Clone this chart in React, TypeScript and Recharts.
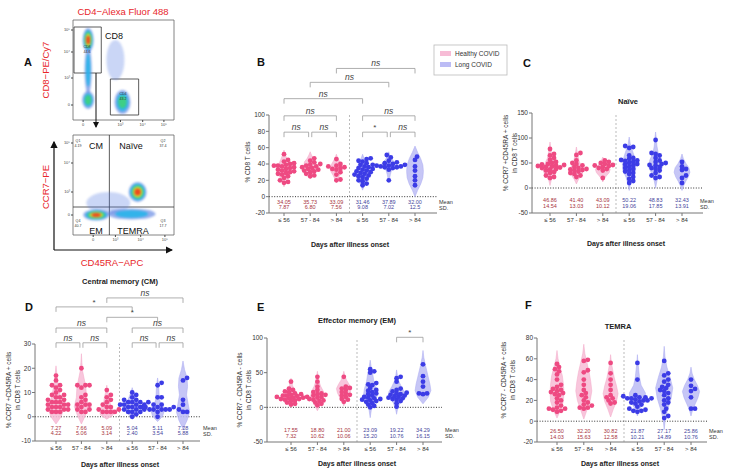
import React from "react";
import { ScatterChart, Scatter, XAxis, YAxis, ReferenceLine, ReferenceArea } from "recharts";

// x categories, same in every panel
const groups = ["≤ 56", "57 - 84", "> 84", "≤ 56", "57 - 84", "> 84"];

type Violin = { lo: number; hi: number; w: number[] };
type Bracket = [number, number, number, string];

// ---- B: % CD8 T cells
const bValues = [
  [52, 45, 43, 41, 40, 39, 38, 38, 37, 36, 35, 34, 33, 32, 31, 30, 29, 28, 27, 25, 23, 20, 18, 17],
  [47, 44, 42, 40, 39, 38, 37, 36, 35, 34, 33, 32, 31, 30, 28, 26, 25],
  [46, 40, 38, 37, 36, 35, 34, 33, 30, 27, 21, 20],
  [47, 46, 44, 43, 41, 39, 37, 36, 35, 34, 33, 32, 31, 30, 29, 28, 27, 26, 25, 24, 22, 20, 19, 16, 14],
  [51, 48, 44, 42, 41, 40, 39, 39, 38, 38, 37, 37, 36, 36, 35, 33, 20],
  [49, 45, 37, 32, 25, 20, 14],
];
const bViolins: Violin[] = [
  { lo: 12, hi: 57, w: [0.06, 0.15, 0.24, 0.26, 0.2, 0.12, 0.05] },
  { lo: 22, hi: 55, w: [0.06, 0.14, 0.2, 0.24, 0.22, 0.12, 0.05] },
  { lo: 17, hi: 52, w: [0.05, 0.12, 0.2, 0.25, 0.2, 0.12, 0.05] },
  { lo: 8, hi: 52, w: [0.06, 0.15, 0.24, 0.27, 0.22, 0.14, 0.06] },
  { lo: 18, hi: 55, w: [0.03, 0.06, 0.1, 0.22, 0.26, 0.12, 0.04] },
  { lo: 0, hi: 62, w: [0.1, 0.22, 0.3, 0.32, 0.3, 0.22, 0.1] },
];
const bMeans = ["34.05", "35.73", "33.09", "31.46", "37.89", "32.00"];
const bSds = ["7.87", "6.80", "7.56", "9.08", "7.02", "12.5"];
const bBrackets: Bracket[] = [
  [3, 6, 157, "ns"], [2, 5, 140, "ns"], [1, 4, 120, "ns"],
  [1, 3, 99, "ns"], [4, 6, 99, "ns"],
  [1, 2, 79, "ns"], [2, 3, 79, "ns"], [4, 5, 79, "*"], [5, 6, 79, "ns"],
];

// ---- C: Naive
const cValues = [
  [78, 68, 65, 60, 56, 52, 50, 48, 47, 46, 45, 44, 43, 42, 41, 40, 38, 37, 35, 32, 30, 25, 22, 20],
  [70, 66, 55, 50, 48, 45, 42, 40, 38, 37, 36, 35, 33, 30, 28, 25, 22],
  [55, 52, 50, 48, 46, 45, 44, 42, 40, 38, 35, 20],
  [84, 82, 80, 65, 60, 58, 56, 55, 54, 52, 50, 48, 47, 45, 42, 40, 38, 35, 33, 30, 28, 22, 18, 14, 10],
  [96, 70, 68, 65, 60, 55, 52, 50, 48, 46, 45, 42, 40, 38, 35, 30, 25, 22, 20],
  [52, 43, 38, 36, 25, 20, 10],
];
const cViolins: Violin[] = [
  { lo: 5, hi: 92, w: [0.05, 0.2, 0.28, 0.2, 0.1, 0.06, 0.03] },
  { lo: 8, hi: 82, w: [0.08, 0.2, 0.26, 0.18, 0.1, 0.06, 0.03] },
  { lo: 12, hi: 62, w: [0.05, 0.14, 0.24, 0.28, 0.22, 0.12, 0.05] },
  { lo: -5, hi: 102, w: [0.05, 0.12, 0.24, 0.26, 0.2, 0.12, 0.04] },
  { lo: 0, hi: 112, w: [0.05, 0.14, 0.26, 0.22, 0.1, 0.05, 0.03] },
  { lo: -5, hi: 68, w: [0.06, 0.14, 0.24, 0.3, 0.26, 0.14, 0.05] },
];
const cMeans = ["46.86", "41.40", "43.09", "50.22", "48.83", "32.43"];
const cSds = ["14.54", "13.03", "10.12", "19.06", "17.85", "13.91"];

// ---- D: Central memory
const dValues = [
  [17, 15, 13, 13, 12, 11, 10, 9, 9, 8, 8, 7, 7, 6, 6, 6, 5, 5, 5, 4, 4, 4, 3, 3, 3, 2, 2, 2],
  [20, 13, 13, 13, 12, 9, 8, 7, 6, 5, 5, 5, 4, 3, 3, 2, 2],
  [11, 9, 8, 7, 6, 5, 4, 4, 3, 3, 2, 2, 2, 2],
  [10, 9, 8, 7, 7, 6, 6, 6, 6, 5, 5, 5, 5, 4, 4, 4, 3, 3, 3, 2, 2, 2, 1, 0],
  [14, 13, 8, 8, 5, 5, 4, 4, 4, 4, 3, 3, 3, 3, 3, 2, 0],
  [16, 15, 7, 5, 3, 2, 2],
];
const dViolins: Violin[] = [
  { lo: -3, hi: 21, w: [0.2, 0.3, 0.24, 0.16, 0.1, 0.06, 0.03] },
  { lo: -3, hi: 26, w: [0.16, 0.28, 0.2, 0.18, 0.12, 0.05, 0.02] },
  { lo: -1, hi: 13, w: [0.25, 0.28, 0.18, 0.12, 0.1, 0.06, 0.03] },
  { lo: -1, hi: 12, w: [0.12, 0.22, 0.28, 0.26, 0.16, 0.1, 0.04] },
  { lo: -2, hi: 16, w: [0.2, 0.26, 0.14, 0.08, 0.06, 0.05, 0.03] },
  { lo: -5, hi: 23, w: [0.16, 0.26, 0.2, 0.14, 0.18, 0.16, 0.06] },
];
const dMeans = ["7.27", "7.66", "5.09", "5.04", "5.11", "7.28"];
const dSds = ["4.22", "5.06", "3.14", "2.40", "3.54", "5.88"];
const dBrackets: Bracket[] = [
  [3, 6, 49, "ns"], [1, 4, 45.3, "*"], [3, 5, 41, "*"],
  [1, 3, 36.6, "ns"], [4, 6, 36.6, "ns"],
  [1, 2, 30.5, "ns"], [2, 3, 30.5, "ns"], [4, 5, 30.5, "ns"], [5, 6, 30.5, "ns"],
];

// ---- E: Effector memory
const eValues = [
  [37, 27, 25, 23, 22, 20, 19, 18, 17, 17, 16, 15, 15, 14, 14, 13, 12, 12, 11, 10, 9, 7, 5, 4],
  [44, 37, 30, 25, 22, 20, 19, 18, 17, 15, 14, 12, 11, 10, 9, 7, 5, 3],
  [44, 30, 28, 27, 25, 22, 20, 18, 17, 15, 12, 11, 8],
  [55, 52, 50, 35, 33, 32, 28, 25, 24, 22, 20, 19, 17, 15, 14, 13, 12, 11, 10, 9, 8, 6, 4, 2, 0],
  [44, 42, 37, 27, 25, 23, 21, 20, 19, 18, 17, 16, 15, 14, 13, 12, 11, 9, 6, 1],
  [62, 45, 37, 30, 20, 20, 19],
];
const eViolins: Violin[] = [
  { lo: 0, hi: 42, w: [0.1, 0.22, 0.28, 0.2, 0.12, 0.06, 0.03] },
  { lo: -5, hi: 52, w: [0.1, 0.2, 0.26, 0.22, 0.12, 0.06, 0.03] },
  { lo: 2, hi: 52, w: [0.06, 0.16, 0.24, 0.28, 0.2, 0.1, 0.04] },
  { lo: -15, hi: 68, w: [0.04, 0.14, 0.26, 0.22, 0.14, 0.1, 0.04] },
  { lo: -10, hi: 54, w: [0.04, 0.12, 0.24, 0.3, 0.18, 0.08, 0.03] },
  { lo: 5, hi: 82, w: [0.2, 0.3, 0.26, 0.2, 0.14, 0.08, 0.03] },
];
const eMeans = ["17.55", "18.80", "21.00", "23.09", "19.22", "34.29"];
const eSds = ["7.32", "10.62", "10.06", "15.20", "10.76", "16.15"];
const eBrackets: Bracket[] = [[5, 6, 101, "*"]];

// ---- F: TEMRA
const fValues = [
  [55, 52, 50, 48, 45, 40, 35, 33, 31, 30, 29, 28, 27, 26, 25, 22, 20, 18, 15, 13, 12, 12, 11, 10, 9],
  [59, 58, 49, 47, 40, 35, 30, 27, 25, 23, 20, 18, 16, 15, 13, 13, 12],
  [56, 46, 40, 35, 30, 25, 23, 22, 20, 18, 17],
  [56, 40, 25, 24, 23, 23, 22, 22, 22, 21, 20, 20, 19, 18, 17, 16, 14, 12, 11, 10, 10, 9],
  [58, 46, 44, 40, 38, 35, 33, 32, 30, 29, 27, 25, 22, 20, 18, 16, 12, 9, 5, 3],
  [40, 34, 31, 29, 23, 12, 12],
];
const fViolins: Violin[] = [
  { lo: 3, hi: 68, w: [0.14, 0.24, 0.26, 0.24, 0.2, 0.12, 0.04] },
  { lo: 2, hi: 74, w: [0.12, 0.24, 0.3, 0.26, 0.2, 0.12, 0.04] },
  { lo: 4, hi: 64, w: [0.1, 0.22, 0.28, 0.22, 0.14, 0.08, 0.03] },
  { lo: 5, hi: 64, w: [0.1, 0.28, 0.3, 0.14, 0.08, 0.05, 0.02] },
  { lo: -8, hi: 72, w: [0.04, 0.14, 0.26, 0.32, 0.22, 0.1, 0.03] },
  { lo: 5, hi: 52, w: [0.06, 0.16, 0.26, 0.32, 0.24, 0.12, 0.04] },
];
const fMeans = ["26.50", "32.20", "30.82", "21.87", "27.17", "25.86"];
const fSds = ["14.03", "15.63", "12.58", "10.21", "14.89", "10.76"];

// ---- A: flow cytometry density blobs (x, y on a 0-100 display scale)
const topBlobs = [
  { x: 42, y: 60, rx: 9, ry: 20, core: 1 },
  { x: 15, y: 50, rx: 3.5, ry: 24, core: 2 },
  { x: 15, y: 80, rx: 5.5, ry: 12, core: 5 },
  { x: 15, y: 20, rx: 6, ry: 9, core: 3 },
  { x: 49, y: 18, rx: 8, ry: 12, core: 3 },
];
const bottomBlobs = [
  { x: 35, y: 32, rx: 22, ry: 11, core: 1 },
  { x: 58, y: 21, rx: 24, ry: 5.5, core: 2 },
  { x: 64, y: 43, rx: 9, ry: 10, core: 5 },
  { x: 23, y: 20, rx: 13, ry: 5.5, core: 5 },
];
const flowTickLabels = ["0", "10³", "10⁴", "10⁵"];

const PINK = "#ee4a82";
const BLUE = "#3c3ce6";
const PINK_V = "#f7bcd6";
const BLUE_V = "#bcbcf5";
const HEAT = ["#4f78e0", "#28b4ea", "#3fd27a", "#e8e22a", "#f03a1e"];
const FONT = "'Liberation Sans', Arial, sans-serif";

const YW = 30;
const MT = 60;
const XH = 20;
const DOT = 4.8;

function swarm(vals: number[], center: number, pxX: number, pxY: number) {
  const placed: { px: number; py: number }[] = [];
  const out: { x: number; y: number }[] = [];
  [...vals].sort((a, b) => a - b).forEach((v) => {
    const py = v * pxY;
    let off = 0;
    for (let n = 0; n < 40; n++) {
      off = (n % 2 === 1 ? 1 : -1) * Math.ceil(n / 2) * DOT * 0.42;
      if (placed.every((p) => Math.hypot(p.px - off, p.py - py) >= DOT * 0.7)) break;
    }
    placed.push({ px: off, py });
    out.push({ x: center + off / pxX, y: v });
  });
  return out;
}

function violinPoints(v: Violin, center: number) {
  const step = (v.hi - v.lo) / (v.w.length + 1);
  const right = v.w.map((w, i) => ({ x: center + w, y: v.lo + step * (i + 1) }));
  const left = [...right].reverse().map((p) => ({ x: 2 * center - p.x, y: p.y }));
  return [{ x: center, y: v.lo }, ...right, { x: center, y: v.hi }, ...left, { x: center, y: v.lo }];
}

interface PanelProps {
  left: number; right: number; top: number; bottom: number;
  first: number; last: number;
  yDomain: [number, number]; yTicks: number[];
  values: number[][]; violins: Violin[]; means: string[]; sds: string[];
  brackets?: Bracket[]; meanDy: number; sdDy: number;
}

function Panel(p: PanelProps) {
  const spacing = (p.last - p.first) / 5;
  const xMin = 1 - (p.first - p.left) / spacing;
  const xMax = 1 + (p.right - p.first) / spacing;
  const pxY = (p.bottom - p.top) / (p.yDomain[1] - p.yDomain[0]);
  const tickLen = 5 / pxY;
  const width = YW + (p.right - p.left) + 12;
  const height = MT + (p.bottom - p.top) + XH;
  const stats = groups.map((_, i) => ({ x: i + 1, y: 0, mean: p.means[i], sd: p.sds[i], long: i > 2 }));
  const brackets = p.brackets ?? [];

  return (
    <div style={{ position: "absolute", left: p.left - YW, top: p.top - MT }}>
      <ScatterChart width={width} height={height} margin={{ top: MT, right: 12, bottom: 0, left: 0 }}>
        <XAxis
          type="number" dataKey="x" domain={[xMin, xMax]} ticks={[1, 2, 3, 4, 5, 6]}
          tickFormatter={(v: number) => groups[v - 1] ?? ""} height={XH}
          tick={{ fontSize: 6, fill: "#333" }} tickSize={3} tickMargin={2}
          axisLine={{ stroke: "#777" }} tickLine={{ stroke: "#777" }}
        />
        <YAxis
          type="number" dataKey="y" domain={p.yDomain} ticks={p.yTicks} width={YW}
          tick={{ fontSize: 6.5, fill: "#333" }} tickSize={3} tickMargin={1}
          axisLine={{ stroke: "#777" }} tickLine={{ stroke: "#777" }}
        />
        <ReferenceLine x={3.5} stroke="#bbb" strokeDasharray="2 2" />
        {p.violins.map((v, i) => (
          <Scatter
            key={`v${i}`} data={violinPoints(v, i + 1)} isAnimationActive={false}
            line={{ fill: i > 2 ? BLUE_V : PINK_V, stroke: i > 2 ? "#a9a9f0" : "#f2a6c6", strokeWidth: 0.5, fillOpacity: 0.85 }}
            lineJointType="linear" shape={() => <g />}
          />
        ))}
        <ReferenceLine y={0} stroke="#333" strokeDasharray="1 1.6" strokeWidth={1} />
        {p.values.map((vals, i) => (
          <Scatter
            key={`d${i}`} data={swarm(vals, i + 1, spacing, pxY)} isAnimationActive={false}
            shape={(s: any) => <circle cx={s.cx} cy={s.cy} r={DOT / 2} fill={i > 2 ? BLUE : PINK} />}
          />
        ))}
        <Scatter
          data={stats} isAnimationActive={false}
          shape={(s: any) => (
            <g fontSize={5.5} textAnchor="middle" fill={s.payload.long ? "#45459c" : "#a8343e"} dominantBaseline="central">
              <text x={s.cx} y={s.cy + p.meanDy}>{s.payload.mean}</text>
              <text x={s.cx} y={s.cy + p.sdDy}>{s.payload.sd}</text>
            </g>
          )}
        />
        {brackets.map(([a, b, lev, label], i) => {
          const insetA = brackets.some((o) => o[2] === lev && o[1] === a) ? 0.06 : 0;
          const insetB = brackets.some((o) => o[2] === lev && o[0] === b) ? 0.06 : 0;
          const x1 = a + insetA;
          const x2 = b - insetB;
          return (
            <React.Fragment key={`b${i}`}>
              <ReferenceLine
                segment={[{ x: x1, y: lev }, { x: x2, y: lev }]} ifOverflow="visible" stroke="#9a9a9a" strokeWidth={0.8}
                label={{ value: label, position: "top", offset: 2, fontSize: label === "*" ? 8 : 8.5, fontStyle: label === "*" ? "normal" : "italic", fill: "#444" }}
              />
              <ReferenceLine segment={[{ x: x1, y: lev }, { x: x1, y: lev - tickLen }]} ifOverflow="visible" stroke="#9a9a9a" strokeWidth={0.8} />
              <ReferenceLine segment={[{ x: x2, y: lev }, { x: x2, y: lev - tickLen }]} ifOverflow="visible" stroke="#9a9a9a" strokeWidth={0.8} />
            </React.Fragment>
          );
        })}
      </ScatterChart>
    </div>
  );
}

const blobShape = (s: any) => {
  const b = s.payload;
  const n = b.core;
  return (
    <g style={{ filter: "blur(1.2px)" }}>
      {Array.from({ length: n }, (_, i) => {
        const k = 1 - i / (n + 1.2);
        return <ellipse key={i} cx={s.cx} cy={s.cy} rx={b.rx * k} ry={b.ry * k} fill={HEAT[i]} fillOpacity={n === 1 ? 0.3 : i === 0 ? 0.6 : 0.9} />;
      })}
    </g>
  );
};

interface FlowProps {
  left: number; top: number; blobs: typeof topBlobs;
  xTicks: number[]; yTicks: number[]; children?: React.ReactNode;
}

function FlowPlot(p: FlowProps) {
  return (
    <div style={{ position: "absolute", left: p.left - 10, top: p.top - 1 }}>
      <ScatterChart width={112} height={111} margin={{ top: 1, right: 1, bottom: 0, left: 0 }}>
        <XAxis type="number" dataKey="x" domain={[0, 100]} ticks={p.xTicks} height={10}
          tickFormatter={(_v: number, i: number) => flowTickLabels[i]} tick={{ fontSize: 4, fill: "#444" }}
          tickSize={2} tickMargin={1} axisLine={false} tickLine={{ stroke: "#444" }} />
        <YAxis type="number" dataKey="y" domain={[0, 100]} ticks={p.yTicks} width={10}
          tickFormatter={(_v: number, i: number) => flowTickLabels[i]} tick={{ fontSize: 4, fill: "#444" }}
          tickSize={2} tickMargin={1} axisLine={false} tickLine={{ stroke: "#444" }} />
        <ReferenceArea x1={0} x2={100} y1={0} y2={100} fill="none" stroke="#666" strokeWidth={0.8} />
        <Scatter data={p.blobs} isAnimationActive={false} shape={blobShape} />
        {p.children}
      </ScatterChart>
    </div>
  );
}

function YTitle({ x, y, lines }: { x: number; y: number; lines: string[] }) {
  return (
    <g fontSize={6.5} fill="#333" textAnchor="middle" dominantBaseline="central">
      {lines.map((t, i) => {
        const lx = x + i * 9;
        return <text key={i} x={lx} y={y} transform={`rotate(-90 ${lx} ${y})`}>{t}</text>;
      })}
    </g>
  );
}

export default function App() {
  const red = "#e8262a";
  return (
    <div style={{ position: "absolute", left: 0, top: 0, width: 730, height: 474, background: "#fff", fontFamily: FONT, overflow: "hidden" }}>
      <FlowPlot left={73} top={20} blobs={topBlobs} xTicks={[10, 47, 69, 90]} yTicks={[15, 42, 68, 90]}>
        <ReferenceArea x1={1} x2={28} y1={47} y2={93} fill="none" stroke="#333" strokeWidth={0.8} />
        <ReferenceArea x1={37} x2={65} y1={5} y2={41} fill="none" stroke="#333" strokeWidth={0.8} />
      </FlowPlot>
      <FlowPlot left={73} top={135} blobs={bottomBlobs} xTicks={[20, 42, 67, 91]} yTicks={[20, 43, 72, 92]}>
        <ReferenceLine x={36} stroke="#333" strokeWidth={0.8} />
        <ReferenceLine y={28} stroke="#333" strokeWidth={0.8} />
      </FlowPlot>

      <Panel left={269} right={437} top={115} bottom={213} first={284} last={415}
        yDomain={[-20, 100]} yTicks={[-20, 0, 20, 40, 60, 80, 100]}
        values={bValues} violins={bViolins} means={bMeans} sds={bSds} brackets={bBrackets} meanDy={5} sdDy={10.5} />
      <Panel left={532} right={703} top={113} bottom={213} first={550} last={682}
        yDomain={[-50, 150]} yTicks={[-50, 0, 50, 100, 150]}
        values={cValues} violins={cViolins} means={cMeans} sds={cSds} meanDy={12} sdDy={18} />
      <Panel left={35} right={200} top={344} bottom={441} first={56} last={183}
        yDomain={[-10, 30]} yTicks={[-10, 0, 10, 20, 30]}
        values={dValues} violins={dViolins} means={dMeans} sds={dSds} brackets={dBrackets} meanDy={11} sdDy={16.5} />
      <Panel left={267} right={442} top={338} bottom={442} first={291} last={423}
        yDomain={[-50, 100]} yTicks={[-50, 0, 50, 100]}
        values={eValues} violins={eViolins} means={eMeans} sds={eSds} brackets={eBrackets} meanDy={23} sdDy={29} />
      <Panel left={537} right={707} top={338} bottom={442} first={557} last={691}
        yDomain={[-20, 80]} yTicks={[-20, 0, 20, 40, 60, 80]}
        values={fValues} violins={fViolins} means={fMeans} sds={fSds} meanDy={10} sdDy={16} />

      <svg width={730} height={474} style={{ position: "absolute", left: 0, top: 0, pointerEvents: "none" }} fontFamily={FONT}>
        <defs>
          <marker id="arr" markerWidth="6" markerHeight="6" refX="5" refY="3" orient="auto">
            <path d="M0,0 L6,3 L0,6 z" fill="#111" />
          </marker>
        </defs>
        {/* panel letters */}
        <g fontSize={11} fontWeight="bold" fill="#111">
          <text x={24} y={66}>A</text>
          <text x={257} y={66}>B</text>
          <text x={523} y={67}>C</text>
          <text x={25} y={311}>D</text>
          <text x={257} y={311}>E</text>
          <text x={525} y={309}>F</text>
        </g>
        {/* panel A labels */}
        <text x={123} y={15} fontSize={9.5} fill={red} textAnchor="middle">CD4−Alexa Fluor 488</text>
        <text x={45} y={70} fontSize={9.5} fill={red} textAnchor="middle" dominantBaseline="central" transform="rotate(-90 45 70)">CD8−PE/Cy7</text>
        <text x={45} y={187} fontSize={9.5} fill={red} textAnchor="middle" dominantBaseline="central" transform="rotate(-90 45 187)">CCR7−PE</text>
        <text x={112} y={266} fontSize={9.5} fill={red} textAnchor="middle">CD45RA−APC</text>
        <text x={120} y={284} fontSize={7.5} fontWeight="bold" fill="#222" textAnchor="middle">Central memory (CM)</text>
        <line x1={54} y1={250} x2={54} y2={142} stroke="#111" strokeWidth={1.2} markerEnd="url(#arr)" />
        <line x1={54} y1={250} x2={172} y2={250} stroke="#111" strokeWidth={1.2} markerEnd="url(#arr)" />
        <line x1={96} y1={73} x2={96} y2={127} stroke="#111" strokeWidth={1} markerEnd="url(#arr)" />
        <text x={105} y={39} fontSize={9} fill="#111">CD8</text>
        <g fontSize={3.6} fill="#333" textAnchor="middle">
          <text x={87} y={48}>CD8</text><text x={87} y={53}>44.6</text>
          <text x={123} y={95}>CD4</text><text x={123} y={100}>43.2</text>
          <text x={78} y={142}>Q1</text><text x={78} y={147}>4.19</text>
          <text x={163} y={142}>Q2</text><text x={163} y={147}>37.4</text>
          <text x={78} y={222}>Q4</text><text x={78} y={227}>40.7</text>
          <text x={163} y={222}>Q3</text><text x={163} y={227}>17.7</text>
        </g>
        <g fontSize={9} fill="#111" textAnchor="middle">
          <text x={96} y={149}>CM</text>
          <text x={131} y={149}>Naïve</text>
          <text x={96} y={234}>EM</text>
          <text x={133} y={234}>TEMRA</text>
        </g>
        {/* legend */}
        <rect x={434} y={45} width={73} height={30} fill="#fff" stroke="#bbb" strokeWidth={0.8} />
        <rect x={440} y={51} width={11} height={5} fill={PINK_V} />
        <rect x={440} y={62} width={11} height={5} fill={BLUE_V} />
        <text x={455} y={56} fontSize={6.5} fill="#333">Healthy COVID</text>
        <text x={455} y={67} fontSize={6.5} fill="#333">Long COVID</text>
        {/* titles */}
        <g fontSize={7.5} fontWeight="bold" fill="#222" textAnchor="middle">
          <text x={628} y={104}>Naïve</text>
          <text x={357} y={323}>Effector memory (EM)</text>
          <text x={618} y={329}>TEMRA</text>
        </g>
        {/* x titles */}
        <g fontSize={7} fontWeight="bold" fill="#222" textAnchor="middle">
          <text x={350} y={247}>Days after illness onset</text>
          <text x={626} y={246}>Days after illness onset</text>
          <text x={120} y={467}>Days after illness onset</text>
          <text x={357} y={466}>Days after illness onset</text>
          <text x={620} y={466}>Days after illness onset</text>
        </g>
        {/* y titles */}
        <YTitle x={247} y={162} lines={["% CD8 T cells"]} />
        <YTitle x={505} y={153} lines={["% CCR7 +CD45RA + cells", "in CD8 T cells"]} />
        <YTitle x={8} y={390} lines={["% CCR7 +CD45RA + cells", "in CD8 T cells"]} />
        <YTitle x={239} y={390} lines={["% CCR7 - CD45RA - cells", "in CD8 T cells"]} />
        <YTitle x={503} y={380} lines={["% CCR7 - CD45RA + cells", "in CD8 T cells"]} />
        {/* Mean / SD row labels */}
        <g fontSize={5.5} fill="#333" dominantBaseline="central">
          <text x={439} y={202}>Mean</text><text x={439} y={207.5}>SD.</text>
          <text x={700} y={201}>Mean</text><text x={700} y={207}>SD.</text>
          <text x={203} y={428}>Mean</text><text x={203} y={433.5}>SD.</text>
          <text x={445} y={430}>Mean</text><text x={445} y={436}>SD.</text>
          <text x={709} y={431}>Mean</text><text x={709} y={437}>SD.</text>
        </g>
      </svg>
    </div>
  );
}
